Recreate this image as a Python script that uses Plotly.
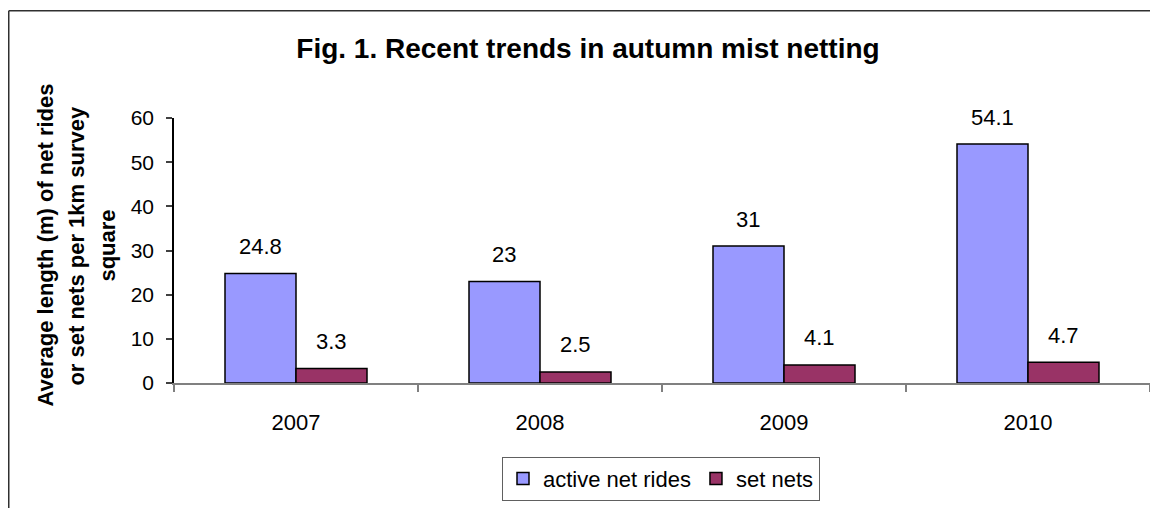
import plotly.graph_objects as go

years = ["2007", "2008", "2009", "2010"]
active_net_rides = [24.8, 23, 31, 54.1]
set_nets = [3.3, 2.5, 4.1, 4.7]
y_ticks = [0, 10, 20, 30, 40, 50, 60]

# page body has an 8px margin, so the figure is drawn 8px in from the window edge
OFF = 8
W, H = 1158 - OFF, 508 - OFF
L, T = 174 - OFF, 118 - OFF
R, B = W - (1150 - OFF), H - (388 - OFF)
plot_w = W - L - R
plot_h = H - T - B
bargap = 0.418
bar_px = plot_w / len(years) * (1 - bargap) / 2

font = "Arial, Liberation Sans, sans-serif"


def px_x(x):
    # page pixel -> paper x
    return (x - OFF - L) / plot_w


def px_y(y):
    # page pixel -> paper y
    return (H - B - (y - OFF)) / plot_h


fig = go.Figure()
fig.add_trace(go.Bar(x=years, y=active_net_rides, name="active net rides",
                     marker=dict(color="#9999FF", line=dict(color="black", width=1.5))))
fig.add_trace(go.Bar(x=years, y=set_nets, name="set nets",
                     marker=dict(color="#993366", line=dict(color="black", width=1.5))))

# data labels above the bars (x given as category index)
for vals, sh in [(active_net_rides, -bar_px / 2), (set_nets, bar_px / 2)]:
    for i, v in enumerate(vals):
        fig.add_annotation(x=i, y=v, text=str(v), showarrow=False, xshift=sh, yshift=27,
                           yanchor="middle", font=dict(size=22, color="black", family=font))

# y axis title, three lines
ytitle = ["Average length (m) of net rides", "or set nets per 1km survey", "square"]
for i, line in enumerate(ytitle):
    fig.add_annotation(text="<b>" + line + "</b>", textangle=-90, showarrow=False,
                       xref="paper", yref="paper", x=px_x(46 + 31 * i), y=px_y(248),
                       xanchor="center", yanchor="middle",
                       font=dict(size=22, color="black", family=font))

# chart border (left and top visible)
bx = px_x(OFF + 0.75)
by = px_y(OFF + 0.75)
fig.add_shape(type="line", xref="paper", yref="paper", x0=bx, x1=bx, y0=px_y(H + OFF + 20), y1=by,
              line=dict(color="#303030", width=1.5))
fig.add_shape(type="line", xref="paper", yref="paper", x0=bx, x1=px_x(W + OFF + 20), y0=by, y1=by,
              line=dict(color="#303030", width=1.5))

fig.update_layout(
    width=W, height=H,
    margin=dict(l=L, r=R, t=T, b=B),
    paper_bgcolor="white", plot_bgcolor="white",
    barmode="group", bargap=bargap, bargroupgap=0,
    title=dict(text="<b>Fig. 1. Recent trends in autumn mist netting</b>", x=(588 - OFF) / W, xanchor="center",
               y=1 - (48 - OFF) / H, yanchor="middle", font=dict(size=28, color="black", family=font)),
    legend=dict(orientation="h", x=px_x(661), xanchor="center", y=px_y(463), yanchor="top",
                bordercolor="#606060", borderwidth=1, font=dict(size=22, color="black", family=font),
                itemwidth=30),
    showlegend=True,
)
fig.update_xaxes(type="category", categoryorder="array", categoryarray=years, range=[-0.5, len(years) - 0.5],
                 showline=True, linecolor="#808080", linewidth=1.5, ticks="outside",
                 tickson="boundaries", ticklen=7, tickcolor="#808080", tickwidth=1.5, showgrid=False,
                 ticklabelstandoff=19, tickfont=dict(size=22, color="black", family=font))
fig.update_yaxes(range=[0, 60], tickvals=y_ticks, showline=True, linecolor="black", linewidth=1.5,
                 ticks="outside", ticklen=6, tickcolor="#404040", tickwidth=1.5, showgrid=False,
                 zeroline=False, ticklabelstandoff=8, tickfont=dict(size=21, color="black", family=font))

fig.write_html("out.html")
